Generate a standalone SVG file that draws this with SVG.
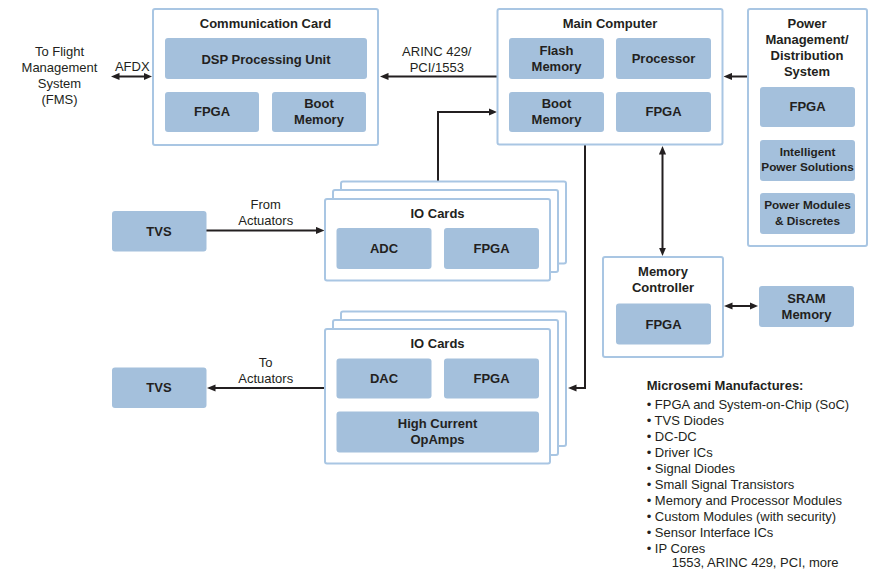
<svg xmlns="http://www.w3.org/2000/svg" width="885" height="579" viewBox="0 0 885 579">
<style>
.card{fill:#ffffff;stroke:#a9c6e3;stroke-width:2}
.blk{fill:#a4c0dc;stroke:none}
.t{font-family:"Liberation Sans",Arial,Helvetica,sans-serif;font-size:13px;fill:#231f20}
.b{font-weight:bold;text-anchor:middle}
.s{font-size:11.8px}
.r{text-anchor:middle}
.ln{fill:none;stroke:#231f20;stroke-width:2}
</style>
<defs>
<marker id="ah" markerUnits="userSpaceOnUse" markerWidth="9" markerHeight="8" viewBox="0 0 9 8" refX="0.5" refY="4" orient="auto-start-reverse">
<path d="M0,0.4 L8.5,4 L0,7.6 z" fill="#231f20"/>
</marker>
</defs>
<rect width="885" height="579" fill="#ffffff"/>

<g id="connectors">
<line class="ln" x1="119" y1="76.5" x2="144" y2="76.5" marker-start="url(#ah)" marker-end="url(#ah)"/>
<line class="ln" x1="497" y1="76.5" x2="388" y2="76.5" marker-end="url(#ah)"/>
<path class="ln" d="M438,181 V112 H489" marker-end="url(#ah)"/>
<path class="ln" d="M585,145 V388 H576" marker-end="url(#ah)"/>
<line class="ln" x1="748" y1="76.5" x2="731.5" y2="76.5" marker-end="url(#ah)"/>
<line class="ln" x1="662.5" y1="154" x2="662.5" y2="248" marker-start="url(#ah)" marker-end="url(#ah)"/>
<line class="ln" x1="732" y1="306" x2="750" y2="306" marker-start="url(#ah)" marker-end="url(#ah)"/>
<line class="ln" x1="206" y1="230.5" x2="316.5" y2="230.5" marker-end="url(#ah)"/>
<line class="ln" x1="325" y1="388" x2="215" y2="388" marker-end="url(#ah)"/>
</g>

<g id="labels">
<text class="t r" x="59.5" y="56">To Flight</text>
<text class="t r" x="59.5" y="72">Management</text>
<text class="t r" x="59.5" y="88">System</text>
<text class="t r" x="59.5" y="104">(FMS)</text>
<text class="t r" x="132.3" y="71">AFDX</text>
<text class="t r" x="436.8" y="56">ARINC 429/</text>
<text class="t r" x="436.8" y="72">PCI/1553</text>
<text class="t r" x="265.7" y="209">From</text>
<text class="t r" x="265.7" y="225">Actuators</text>
<text class="t r" x="265.7" y="367">To</text>
<text class="t r" x="265.7" y="383">Actuators</text>
</g>

<g id="comm-card">
<rect class="card" x="153" y="9" width="225" height="136" rx="2"/>
<text class="t b" x="265.5" y="28">Communication Card</text>
<rect class="blk" x="165" y="38" width="202" height="41" rx="3"/>
<text class="t b" x="266" y="63.5">DSP Processing Unit</text>
<rect class="blk" x="165" y="92" width="94" height="40" rx="3"/>
<text class="t b" x="212" y="116">FPGA</text>
<rect class="blk" x="272" y="92" width="94" height="40" rx="3"/>
<text class="t b" x="319" y="108">Boot</text>
<text class="t b" x="319" y="123.5">Memory</text>
</g>

<g id="main-computer">
<rect class="card" x="497.5" y="9" width="225" height="135.5" rx="2"/>
<text class="t b" x="610" y="28">Main Computer</text>
<rect class="blk" x="509" y="38" width="95" height="41" rx="3"/>
<text class="t b" x="556.5" y="55">Flash</text>
<text class="t b" x="556.5" y="70.5">Memory</text>
<rect class="blk" x="616" y="38" width="95" height="41" rx="3"/>
<text class="t b" x="663.5" y="63">Processor</text>
<rect class="blk" x="509" y="92" width="95" height="40" rx="3"/>
<text class="t b" x="556.5" y="108">Boot</text>
<text class="t b" x="556.5" y="123.5">Memory</text>
<rect class="blk" x="616" y="92" width="95" height="40" rx="3"/>
<text class="t b" x="663.5" y="115.5">FPGA</text>
</g>

<g id="power-system">
<rect class="card" x="748" y="9" width="119" height="237" rx="2"/>
<text class="t b" x="807" y="28">Power</text>
<text class="t b" x="807" y="44">Management/</text>
<text class="t b" x="807" y="59.5">Distribution</text>
<text class="t b" x="807" y="75.5">System</text>
<rect class="blk" x="760" y="87" width="95" height="40" rx="3"/>
<text class="t b" x="807.5" y="111">FPGA</text>
<rect class="blk" x="760" y="140" width="95" height="41" rx="3"/>
<text class="t b s" x="807.5" y="156">Intelligent</text>
<text class="t b s" x="807.5" y="171">Power Solutions</text>
<rect class="blk" x="760" y="193" width="95" height="41" rx="3"/>
<text class="t b s" x="807.5" y="209.3">Power Modules</text>
<text class="t b s" x="807.5" y="225.3">&amp; Discretes</text>
</g>

<g id="io-cards-in">
<rect class="card" x="341" y="181.5" width="225" height="82" rx="2"/>
<rect class="card" x="333" y="190" width="225" height="82" rx="2"/>
<rect class="card" x="325" y="199" width="225" height="81.5" rx="2"/>
<text class="t b" x="437.5" y="218">IO Cards</text>
<rect class="blk" x="336.5" y="228" width="95" height="41" rx="3"/>
<text class="t b" x="384" y="253">ADC</text>
<rect class="blk" x="444" y="228" width="95" height="41" rx="3"/>
<text class="t b" x="491.5" y="253">FPGA</text>
</g>

<g id="io-cards-out">
<rect class="card" x="341" y="311.5" width="225" height="134.5" rx="2"/>
<rect class="card" x="333" y="320" width="225" height="135" rx="2"/>
<rect class="card" x="325" y="329" width="225" height="134.5" rx="2"/>
<text class="t b" x="437.5" y="348">IO Cards</text>
<rect class="blk" x="336.5" y="358.5" width="95" height="40" rx="3"/>
<text class="t b" x="384" y="383">DAC</text>
<rect class="blk" x="444" y="358.5" width="95" height="40" rx="3"/>
<text class="t b" x="491.5" y="383">FPGA</text>
<rect class="blk" x="336.5" y="411.5" width="202.5" height="41" rx="3"/>
<text class="t b" x="437.5" y="428">High Current</text>
<text class="t b" x="437.5" y="444">OpAmps</text>
</g>

<g id="tvs-in">
<rect class="blk" x="112" y="211" width="94.5" height="40.5" rx="3"/>
<text class="t b" x="159" y="235.5">TVS</text>
</g>

<g id="tvs-out">
<rect class="blk" x="112" y="367.5" width="94.5" height="40.5" rx="3"/>
<text class="t b" x="159" y="392">TVS</text>
</g>

<g id="memory-controller">
<rect class="card" x="603" y="257" width="120" height="100" rx="2"/>
<text class="t b" x="663" y="276">Memory</text>
<text class="t b" x="663" y="292">Controller</text>
<rect class="blk" x="616" y="303.5" width="95" height="41" rx="3"/>
<text class="t b" x="663.5" y="328.5">FPGA</text>
</g>

<g id="sram-memory">
<rect class="blk" x="759" y="286" width="95" height="41" rx="3"/>
<text class="t b" x="806.5" y="303">SRAM</text>
<text class="t b" x="806.5" y="319">Memory</text>
</g>

<g id="manufactures-list">
<text class="t" x="646.7" y="389.5" font-weight="bold">Microsemi Manufactures:</text>
<text class="t" x="646.7" y="408.5">• FPGA and System-on-Chip (SoC)</text>
<text class="t" x="646.7" y="424.5">• TVS Diodes</text>
<text class="t" x="646.7" y="440.5">• DC-DC</text>
<text class="t" x="646.7" y="456.5">• Driver ICs</text>
<text class="t" x="646.7" y="472.5">• Signal Diodes</text>
<text class="t" x="646.7" y="488.5">• Small Signal Transistors</text>
<text class="t" x="646.7" y="504.5">• Memory and Processor Modules</text>
<text class="t" x="646.7" y="520.5">• Custom Modules (with security)</text>
<text class="t" x="646.7" y="536.5">• Sensor Interface ICs</text>
<text class="t" x="646.7" y="552.5">• IP Cores</text>
<text class="t" x="671.7" y="567">1553, ARINC 429, PCI, more</text>
</g>
</svg>
